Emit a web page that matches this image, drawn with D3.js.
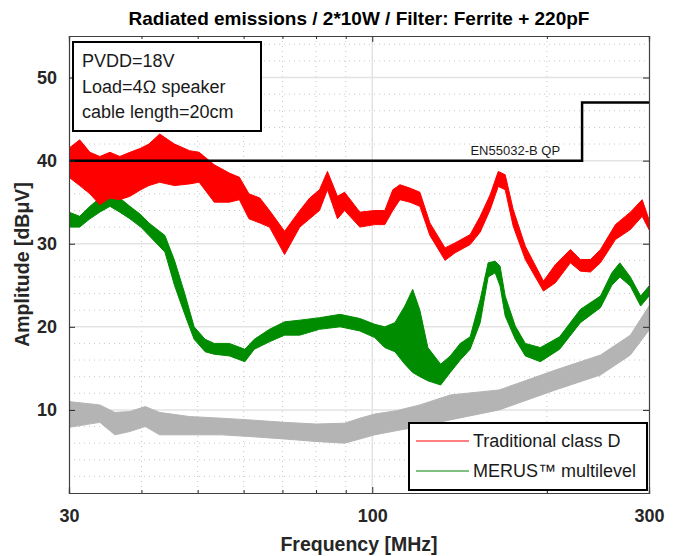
<!DOCTYPE html>
<html>
<head>
<meta charset="utf-8">
<script src="https://cdn.jsdelivr.net/npm/d3@7"></script>
<style>
  body { margin: 0; background: #fff; font-family: "Liberation Sans", Arial, sans-serif; }
</style>
</head>
<body>
<div id="chart"></div>
<script>
// Traditional class D (red) - lower / upper envelope of the trace, MHz / dBuV
var redFreq = [30, 31.3, 32.6, 33.9, 35.3, 36.7, 38.2, 39.9, 41.2, 43.0, 45.6, 48.4, 50.3, 53.4, 56.7, 59.0, 61.3, 64.0, 66.5, 70.6, 75.0, 78.0, 81.1, 83.7, 87.1, 89.6, 95.2, 101.0, 105.1, 108.5, 111.6, 116.1, 120.8, 125.7, 133.5, 138.9, 147.5, 153.5, 159.7, 164.9, 169.5, 175.0, 183.6, 197.3, 206.9, 219.6, 228.5, 237.8, 247.4, 262.6, 278.6, 292.0, 300]
var redLo = [38.0, 37.0, 36.0, 34.7, 35.5, 35.3, 35.7, 36.5, 37.0, 37.4, 37.0, 37.2, 37.4, 35.0, 35.0, 35.3, 33.0, 32.5, 32.0, 28.7, 32.0, 33.0, 34.0, 36.5, 33.0, 34.0, 32.0, 32.3, 32.3, 34.0, 35.3, 35.0, 34.5, 31.0, 28.0, 28.9, 29.9, 31.4, 34.1, 36.9, 36.5, 32.1, 28.1, 24.3, 25.3, 27.7, 26.7, 26.6, 27.7, 30.5, 31.7, 33.3, 31.7]
var redHi = [41.5, 42.5, 41.0, 40.5, 41.0, 40.5, 41.0, 41.5, 42.0, 43.2, 42.0, 41.2, 41.0, 39.5, 38.5, 38.0, 36.0, 35.5, 34.0, 31.5, 34.0, 35.5, 36.5, 38.7, 35.7, 36.2, 33.8, 34.0, 34.0, 36.5, 37.1, 36.7, 36.2, 32.5, 29.5, 30.1, 31.1, 33.3, 35.9, 38.7, 38.3, 34.1, 29.7, 25.5, 27.5, 29.3, 28.1, 28.1, 29.3, 32.3, 33.8, 35.3, 32.9]

// MERUS multilevel (green)
var greenFreq = [30, 31.3, 32.6, 33.9, 35.3, 36.7, 38.2, 39.9, 41.2, 43.9, 45.6, 47.5, 49.3, 51.5, 53.4, 56.7, 60.3, 62.6, 66.5, 70.6, 75.0, 81.1, 88.0, 95.2, 101.0, 105.1, 109.4, 113.8, 117.4, 120.8, 124.7, 131.2, 136.3, 141.8, 147.5, 153.5, 158.4, 162.9, 166.1, 169.5, 176.4, 183.6, 194.9, 210.4, 228.5, 247.4, 258.9, 267.2, 278.6, 290.2, 300]
var greenLo = [32.0, 32.0, 33.0, 33.8, 34.5, 33.8, 33.0, 32.0, 31.0, 29.0, 25.0, 21.5, 18.5, 17.0, 16.7, 16.5, 15.8, 17.3, 18.2, 19.0, 19.0, 19.7, 20.0, 19.5, 18.7, 17.5, 17.0, 15.5, 14.5, 14.0, 13.5, 13.0, 14.5, 16.0, 17.3, 20.5, 26.0, 26.5, 24.9, 21.3, 18.5, 16.5, 15.8, 17.3, 20.5, 22.3, 25.0, 26.0, 24.9, 22.5, 23.7]
var greenHi = [33.8, 33.3, 34.5, 35.5, 36.0, 35.5, 34.5, 33.5, 32.5, 31.0, 28.0, 24.0, 20.0, 18.5, 18.0, 18.0, 17.3, 18.5, 19.7, 20.6, 20.8, 21.1, 21.5, 21.0, 20.3, 20.0, 20.5, 22.5, 24.5, 22.0, 17.5, 15.5, 16.5, 18.0, 18.8, 23.3, 27.7, 27.9, 27.3, 23.7, 20.1, 18.0, 17.5, 18.8, 22.1, 23.7, 26.5, 27.7, 26.0, 23.7, 24.9]

// noise floor (grey)
var grayFreq = [30, 33.9, 36.0, 38.2, 40.6, 43.0, 48.4, 55.0, 61.3, 70.6, 80.0, 89.6, 95.2, 101.0, 110.0, 120.8, 136.3, 165.5, 206.9, 247.4, 278.6, 300]
var grayLo = [7.9, 8.5, 7.0, 7.4, 8.0, 7.0, 7.0, 7.0, 6.8, 6.5, 6.2, 6.0, 6.5, 7.0, 7.5, 8.0, 8.8, 10.0, 12.4, 14.2, 16.6, 19.6]
var grayHi = [11.0, 10.6, 9.7, 9.8, 10.4, 9.7, 9.2, 9.0, 8.8, 8.5, 8.3, 8.4, 9.0, 9.5, 9.9, 10.6, 11.8, 12.4, 14.8, 16.6, 19.0, 22.5]

// EN55032 class B QP limit
var limitFreq = [30, 230, 230, 300]
var limitLevel = [40, 40, 47, 47]

var xTicks = [30, 100, 300]
var xMinorTicks = [40, 50, 60, 70, 80, 90, 200]
var yTicks = [10, 20, 30, 40, 50]
var yMinorTicks = [2, 4, 6, 8, 12, 14, 16, 18, 22, 24, 26, 28, 32, 34, 36, 38, 42, 44, 46, 48, 52, 54]

var infoLines = ['PVDD=18V', 'Load=4\u2126 speaker', 'cable length=20cm']
var legendNames = ['Traditional class D', 'MERUS\u2122 multilevel']
var legendColors = ['#ff0000', '#008000']

// Set up margin/height/width
var margin = { top: 36, left: 69, right: 31, bottom: 63 }
var width = 680 - margin.left - margin.right
var height = 556 - margin.top - margin.bottom

var svg = d3.select('#chart')
  .append('svg')
  .attr('width', 680)
  .attr('height', 556)

var g = svg.append('g')
  .attr('transform', `translate(${margin.left}, ${margin.top})`)

var xPositionScale = d3.scaleLog().domain([30, 300]).range([0, width])
var yPositionScale = d3.scaleLinear().domain([0, 55]).range([height, 0])

// minor grid (dotted)
g.append('g')
  .selectAll('line')
  .data(xMinorTicks)
  .enter()
  .append('line')
  .attr('x1', d => xPositionScale(d))
  .attr('x2', d => xPositionScale(d))
  .attr('y1', 0)
  .attr('y2', height)
  .attr('stroke', '#c8c8c8')
  .attr('stroke-dasharray', '1,4')

g.append('g')
  .selectAll('line')
  .data(yMinorTicks)
  .enter()
  .append('line')
  .attr('x1', 0)
  .attr('x2', width)
  .attr('y1', d => yPositionScale(d))
  .attr('y2', d => yPositionScale(d))
  .attr('stroke', '#c8c8c8')
  .attr('stroke-dasharray', '1,4')

// major grid (solid light grey)
g.append('g')
  .selectAll('line')
  .data(xTicks.slice(1, -1))
  .enter()
  .append('line')
  .attr('x1', d => xPositionScale(d))
  .attr('x2', d => xPositionScale(d))
  .attr('y1', 0)
  .attr('y2', height)
  .attr('stroke', '#e3e3e3')
  .attr('stroke-width', 1.5)

g.append('g')
  .selectAll('line')
  .data(yTicks)
  .enter()
  .append('line')
  .attr('x1', 0)
  .attr('x2', width)
  .attr('y1', d => yPositionScale(d))
  .attr('y2', d => yPositionScale(d))
  .attr('stroke', '#e3e3e3')
  .attr('stroke-width', 1.5)

svg.append('clipPath')
  .attr('id', 'plot-clip')
  .append('rect')
  .attr('width', width)
  .attr('height', height)

var plot = g.append('g').attr('clip-path', 'url(#plot-clip)')

function band(freq, lo, hi) {
  return d3.area()
    .x((d, i) => xPositionScale(freq[i]))
    .y0((d, i) => yPositionScale(lo[i]))
    .y1((d, i) => yPositionScale(hi[i]))(freq)
}

var series = [
  { freq: grayFreq, lo: grayLo, hi: grayHi, color: '#b4b4b4' },
  { freq: greenFreq, lo: greenLo, hi: greenHi, color: '#008c00' },
  { freq: redFreq, lo: redLo, hi: redHi, color: '#ff0000' }
]

plot.selectAll('.trace')
  .data(series)
  .enter()
  .append('path')
  .attr('class', 'trace')
  .attr('d', d => band(d.freq, d.lo, d.hi))
  .attr('fill', d => d.color)
  .attr('stroke', d => d.color)
  .attr('stroke-width', 1)
  .attr('stroke-linejoin', 'round')

// limit line
var limitLine = d3.line()
  .x((d, i) => xPositionScale(limitFreq[i]))
  .y((d, i) => yPositionScale(limitLevel[i]))

plot.append('path')
  .attr('d', limitLine(limitFreq))
  .attr('fill', 'none')
  .attr('stroke', '#000')
  .attr('stroke-width', 2.5)

g.append('text')
  .text('EN55032-B QP')
  .attr('x', xPositionScale(230) - 22)
  .attr('y', yPositionScale(40) - 6)
  .attr('text-anchor', 'end')
  .attr('font-size', 13)
  .attr('fill', '#1a1a1a')

// axes, ticks inside like matlab
var xAxisBottom = d3.axisBottom(xPositionScale).tickValues(xTicks).tickFormat(d3.format('d')).tickSize(-6).tickPadding(16)
var xAxisTop = d3.axisTop(xPositionScale).tickValues(xTicks).tickFormat('').tickSize(-6)
var yAxisLeft = d3.axisLeft(yPositionScale).tickValues(yTicks).tickSize(-6).tickPadding(12)
var yAxisRight = d3.axisRight(yPositionScale).tickValues(yTicks).tickFormat('').tickSize(-6)

g.append('g').attr('class', 'axis').attr('transform', `translate(0, ${height})`).call(xAxisBottom)
g.append('g').attr('class', 'axis').call(xAxisTop)
g.append('g').attr('class', 'axis').call(yAxisLeft)
g.append('g').attr('class', 'axis').attr('transform', `translate(${width}, 0)`).call(yAxisRight)

var minorBottom = d3.axisBottom(xPositionScale).tickValues(xMinorTicks).tickFormat('').tickSize(-3)
var minorTop = d3.axisTop(xPositionScale).tickValues(xMinorTicks).tickFormat('').tickSize(-3)
g.append('g').attr('class', 'axis').attr('transform', `translate(0, ${height})`).call(minorBottom)
g.append('g').attr('class', 'axis').call(minorTop)

g.selectAll('.axis .domain').attr('stroke', '#404040').attr('stroke-width', 1.2)
g.selectAll('.axis line').attr('stroke', '#262626')
g.selectAll('.axis text')
  .attr('font-family', '"Liberation Sans", Arial, sans-serif')
  .attr('font-size', 18)
  .attr('font-weight', 'bold')
  .attr('fill', '#262626')

// title and axis labels
svg.append('text')
  .text('Radiated emissions / 2*10W / Filter: Ferrite + 220pF')
  .attr('x', margin.left + width / 2)
  .attr('y', 25)
  .attr('text-anchor', 'middle')
  .attr('font-size', 19)
  .attr('font-weight', 'bold')

svg.append('text')
  .text('Frequency [MHz]')
  .attr('x', margin.left + width / 2)
  .attr('y', 551)
  .attr('text-anchor', 'middle')
  .attr('font-size', 19.5)
  .attr('font-weight', 'bold')
  .attr('fill', '#262626')

svg.append('text')
  .text('Amplitude [dB\u03bcV]')
  .attr('transform', `translate(29, ${margin.top + height / 2}) rotate(-90)`)
  .attr('text-anchor', 'middle')
  .attr('font-size', 19.5)
  .attr('font-weight', 'bold')
  .attr('fill', '#262626')

// info box
var info = g.append('g').attr('transform', 'translate(4, 6)')
info.append('rect')
  .attr('width', 188)
  .attr('height', 89)
  .attr('fill', '#fff')
  .attr('stroke', '#000')
  .attr('stroke-width', 2)
info.selectAll('text')
  .data(infoLines)
  .enter()
  .append('text')
  .text(d => d)
  .attr('x', 9)
  .attr('y', (d, i) => 25 + i * 25.5)
  .attr('font-size', 18)
  .attr('fill', '#1a1a1a')

// legend
var legend = g.append('g').attr('transform', `translate(${width - 240}, ${height - 70})`)
legend.append('rect')
  .attr('width', 238)
  .attr('height', 67)
  .attr('fill', '#fff')
  .attr('stroke', '#000')
  .attr('stroke-width', 2)
legend.selectAll('line')
  .data(legendNames)
  .enter()
  .append('line')
  .attr('x1', 7)
  .attr('x2', 60)
  .attr('y1', (d, i) => 18 + i * 30)
  .attr('y2', (d, i) => 18 + i * 30)
  .attr('stroke', (d, i) => legendColors[i])
  .attr('stroke-width', 1)
legend.selectAll('text')
  .data(legendNames)
  .enter()
  .append('text')
  .text(d => d)
  .attr('x', 64)
  .attr('y', (d, i) => 24 + i * 30)
  .attr('font-size', 18)
  .attr('fill', '#1a1a1a')
</script>
</body>
</html>
